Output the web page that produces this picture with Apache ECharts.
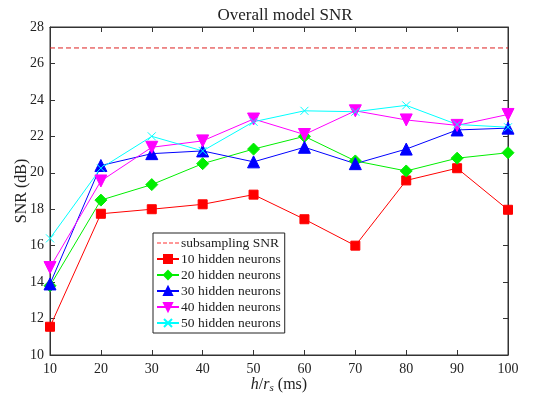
<!DOCTYPE html>
<html>
<head>
<meta charset="utf-8">
<script src="https://cdn.jsdelivr.net/npm/echarts@6/dist/echarts.min.js"></script>
<style>
  html, body { margin: 0; padding: 0; background: #fff; }
  #box { width: 547px; height: 403px; }
</style>
</head>
<body>
<div id="box"></div>
<script>
const xVals = [10, 20, 30, 40, 50, 60, 70, 80, 90, 100];
const subsampling = 26.85;
const n10 = [11.55, 17.75, 18.0, 18.27, 18.8, 17.45, 16.0, 19.58, 20.25, 17.97];
const n20 = [13.8, 18.5, 19.35, 20.5, 21.3, 22.0, 20.65, 20.1, 20.8, 21.1];
const n30 = [13.9, 20.4, 21.05, 21.2, 20.6, 21.4, 20.5, 21.3, 22.35, 22.45];
const n40 = [14.8, 19.55, 21.4, 21.75, 22.95, 22.1, 23.4, 22.9, 22.6, 23.2];
const n50 = [16.4, 20.25, 22.0, 21.2, 22.8, 23.4, 23.35, 23.7, 22.65, 22.5];

const font = 'Liberation Serif, DejaVu Serif, serif';
const pair = arr => arr.map((v, i) => [xVals[i], v]);

const chartDom = document.getElementById('box');
const myChart = echarts.init(chartDom);

const mk = (name, color, data, symbol, size, rot) => ({
  name: name,
  type: 'line',
  data: pair(data),
  symbol: symbol,
  symbolSize: size,
  symbolRotate: rot || 0,
  showAllSymbol: true,
  lineStyle: { color: color, width: 1 },
  itemStyle: { color: color, borderColor: color, borderWidth: 1 },
  emphasis: { disabled: true },
  z: 3
});

// dashed line icon for the subsampling entry
const dashIcon = 'path://M0,4.5h4v1h-4zM6,4.5h4v1h-4zM12,4.5h4v1h-4zM18,4.5h4v1h-4z';

var option = {
  animation: false,
  title: {
    text: 'Overall model SNR',
    left: 280,
    textAlign: 'center',
    top: 2,
    textStyle: { fontFamily: font, fontSize: 17, fontWeight: 'normal', color: '#222' }
  },
  legend: {
    orient: 'vertical',
    left: 153,
    top: 233,
    itemGap: 2,
    itemWidth: 22,
    itemHeight: 10,
    padding: [3, 4, 3, 3],
    borderColor: '#222',
    borderWidth: 1,
    backgroundColor: '#fff',
    textStyle: { fontFamily: font, fontSize: 13.5, color: '#222', padding: [0, 0, 0, -3] },
    data: [
      { name: 'subsampling SNR', icon: dashIcon, itemStyle: { color: '#ff3030' } },
      '10 hidden neurons', '20 hidden neurons', '30 hidden neurons', '40 hidden neurons', '50 hidden neurons'
    ]
  },
  grid: {
    left: 50,
    right: 39,
    top: 27,
    bottom: 48,
    outerBoundsMode: 'none',
    show: true,
    borderColor: '#333',
    borderWidth: 1
  },
  xAxis: [{
    type: 'value',
    min: 10,
    max: 100,
    interval: 10,
    name: '{i|h}/{i|r}{s|s} (ms)',
    nameLocation: 'middle',
    nameGap: 20,
    nameMoveOverlap: false,
    nameTextStyle: {
      fontFamily: font, fontSize: 16, color: '#222',
      rich: {
        i: { fontFamily: font, fontSize: 16, fontStyle: 'italic', color: '#222' },
        s: { fontFamily: font, fontSize: 11, fontStyle: 'italic', color: '#222', verticalAlign: 'bottom', padding: [8, 0, 0, 0] }
      }
    },
    axisLine: { lineStyle: { color: '#333' } },
    axisTick: { inside: true, length: 5, lineStyle: { color: '#333' } },
    axisLabel: { fontFamily: font, fontSize: 14, color: '#222', margin: 7 },
    splitLine: { show: false }
  }, {
    type: 'value',
    position: 'top',
    min: 10,
    max: 100,
    interval: 10,
    axisLine: { lineStyle: { color: '#333' } },
    axisTick: { inside: true, length: 5, lineStyle: { color: '#333' } },
    axisLabel: { show: false },
    splitLine: { show: false }
  }],
  yAxis: [{
    type: 'value',
    min: 10,
    max: 28,
    interval: 2,
    name: 'SNR (dB)',
    nameLocation: 'middle',
    nameGap: 20,
    nameMoveOverlap: false,
    nameTextStyle: { fontFamily: font, fontSize: 16, color: '#222' },
    axisLine: { show: true, lineStyle: { color: '#333' } },
    axisTick: { show: true, inside: true, length: 5, lineStyle: { color: '#333' } },
    axisLabel: { fontFamily: font, fontSize: 14, color: '#222', margin: 6 },
    splitLine: { show: false }
  }, {
    type: 'value',
    position: 'right',
    min: 10,
    max: 28,
    interval: 2,
    axisLine: { show: true, lineStyle: { color: '#333' } },
    axisTick: { show: true, inside: true, length: 5, lineStyle: { color: '#333' } },
    axisLabel: { show: false },
    splitLine: { show: false }
  }],
  series: [
    {
      name: 'subsampling SNR',
      type: 'line',
      data: [[10, subsampling], [100, subsampling]],
      symbol: 'none',
      lineStyle: { color: '#dd2020', width: 1, type: [5, 3] },
      itemStyle: { color: '#dd2020' },
      emphasis: { disabled: true }
    },
    mk('10 hidden neurons', '#ff0000', n10, 'rect', 9),
    mk('20 hidden neurons', '#00ee00', n20, 'diamond', 12),
    mk('30 hidden neurons', '#0000ff', n30, 'triangle', 12),
    mk('40 hidden neurons', '#ff00ff', n40, 'triangle', 12, 180),
    mk('50 hidden neurons', '#00ffff', n50, 'path://M0,0L10,10M10,0L0,10', 8)
  ]
};
option && myChart.setOption(option);
window.addEventListener('resize', function () {
  if (myChart) {
    myChart.resize();
  }
});
</script>
</body>
</html>
